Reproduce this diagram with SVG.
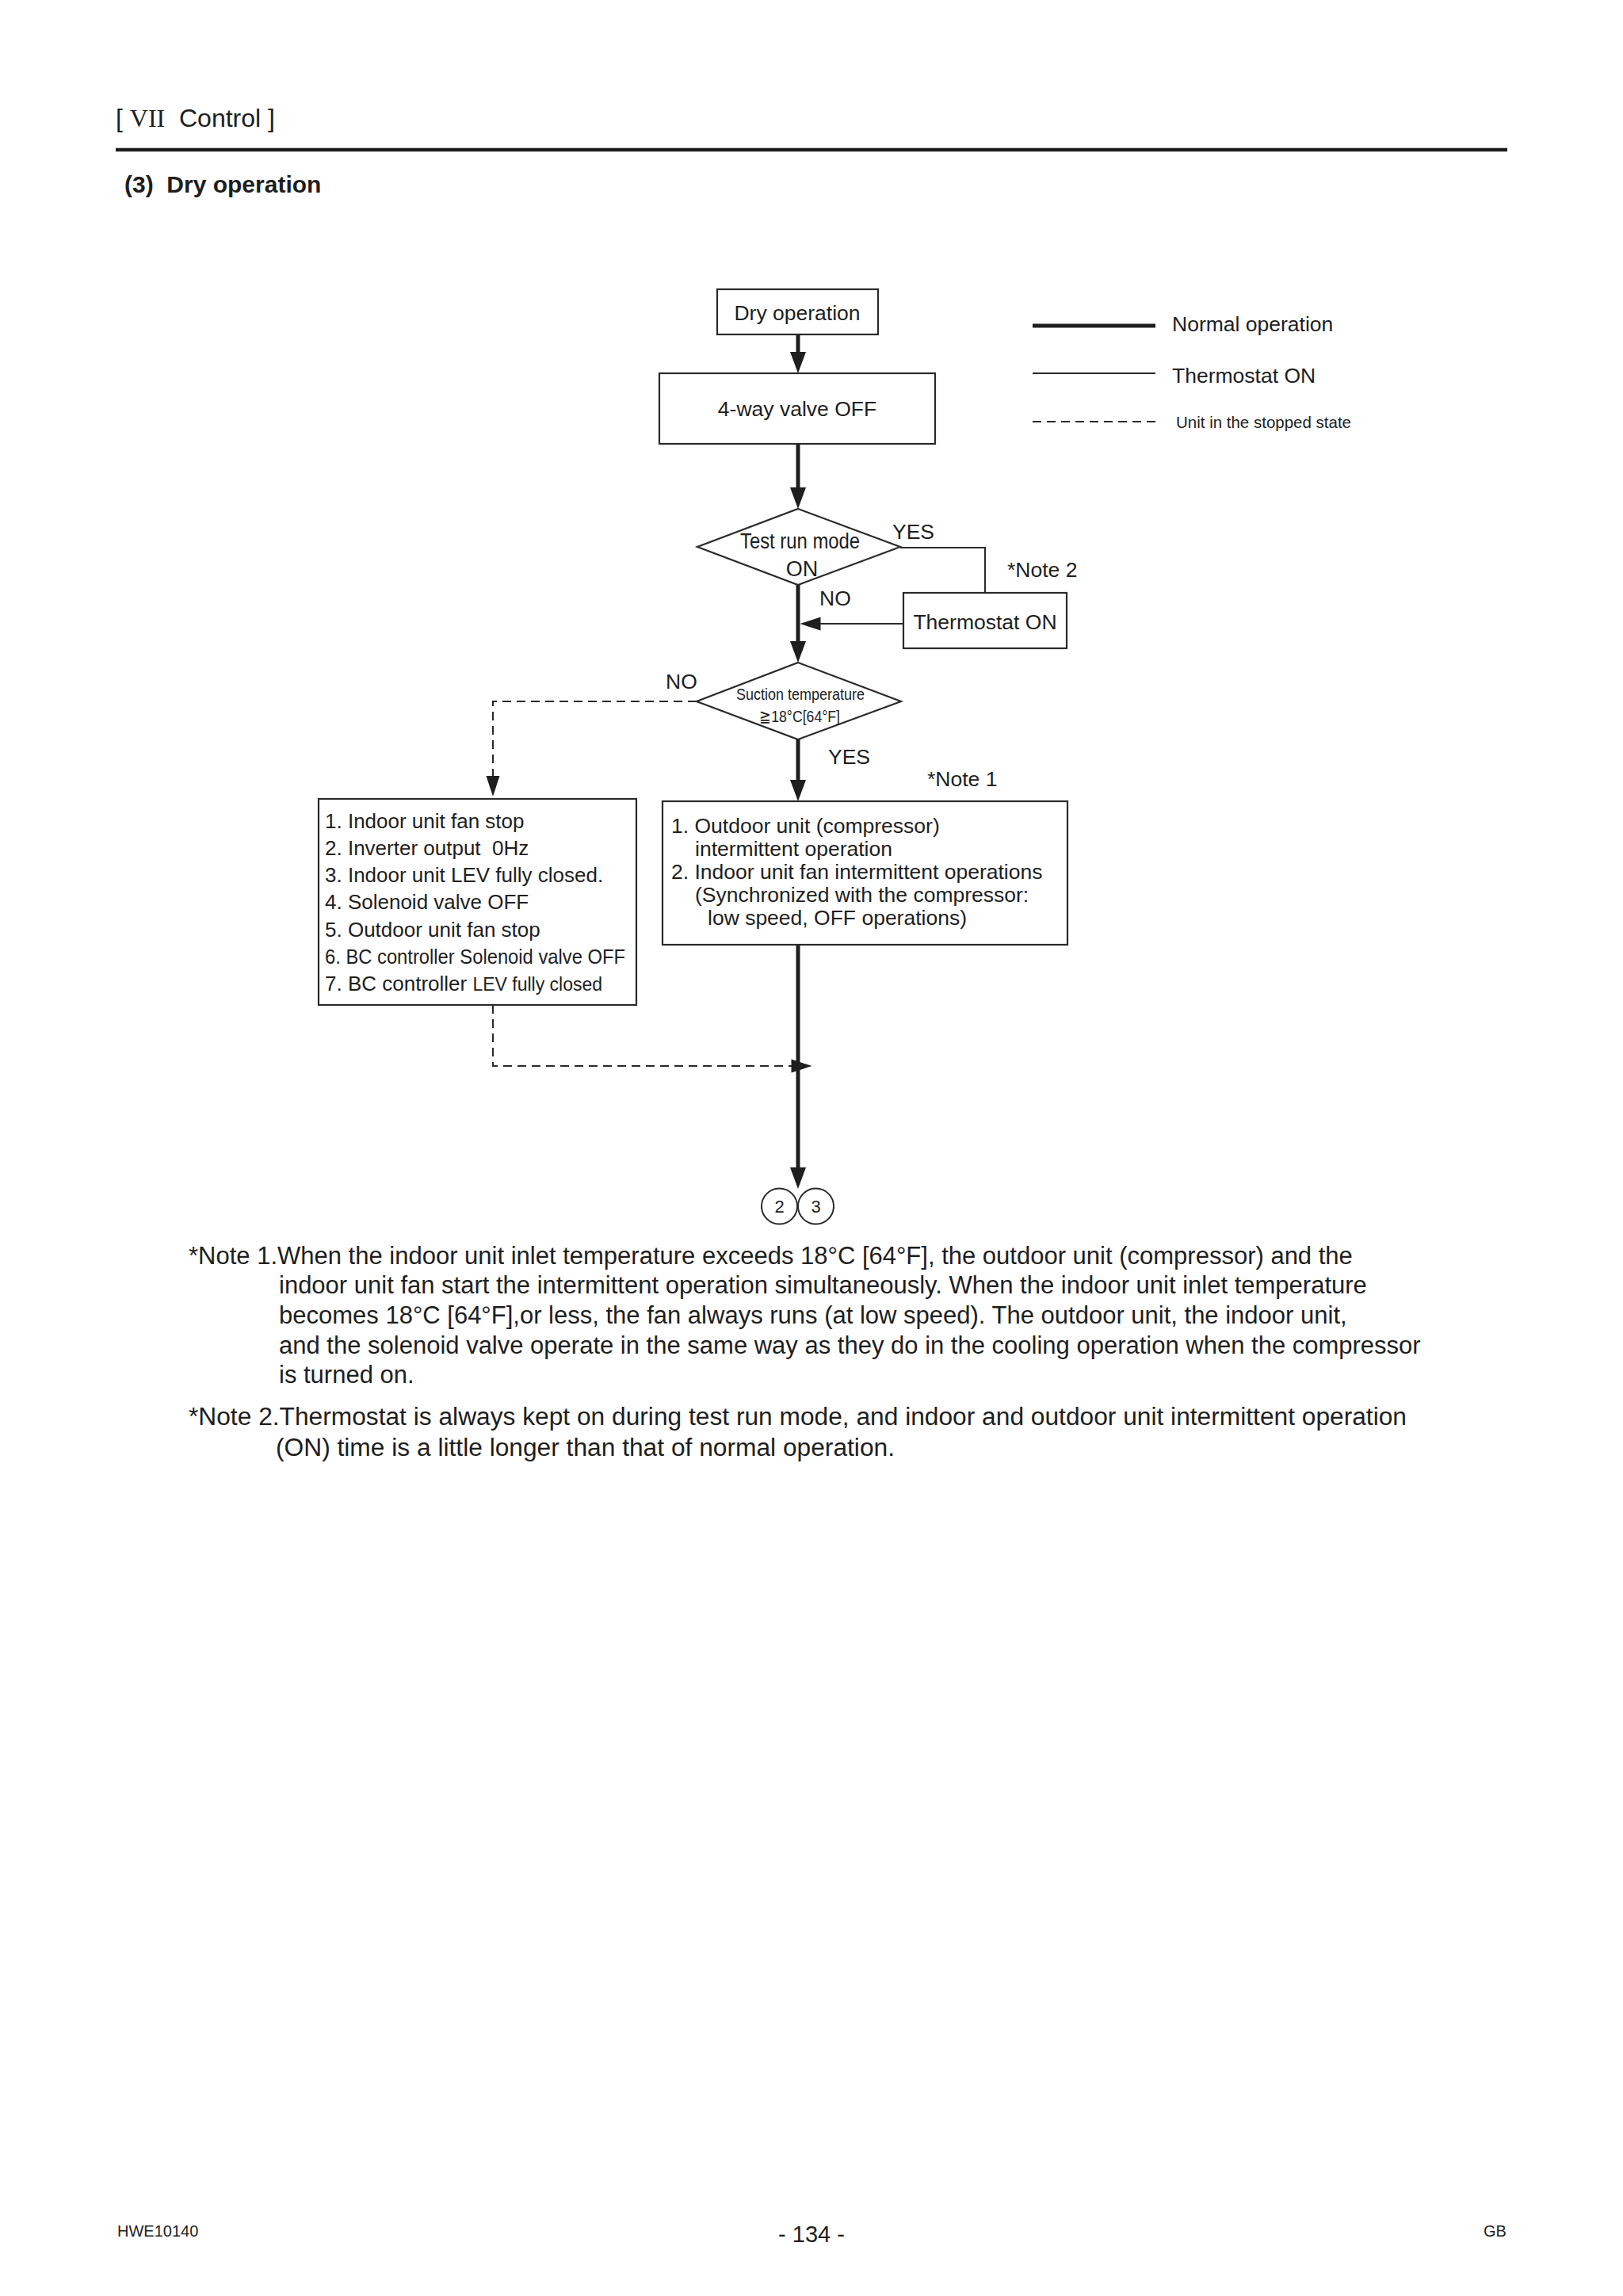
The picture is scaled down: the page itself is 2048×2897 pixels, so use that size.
<svg xmlns="http://www.w3.org/2000/svg" width="2048" height="2897" viewBox="0 0 2048 2897">
<style>
text{font-family:"Liberation Sans",Arial,sans-serif;fill:#1e1e1e}
.n{font-size:26.5px}
.b{font-size:26px}
.nt{font-size:31px}
.box{fill:#fff;stroke:#2a2a2a;stroke-width:2.2}
.thick{fill:none;stroke:#1e1e1e;stroke-width:5}
.thin{fill:none;stroke:#2a2a2a;stroke-width:2}
.dash{fill:none;stroke:#2a2a2a;stroke-width:2.2;stroke-dasharray:11 7}
.c{text-anchor:middle}
</style>
<defs>
<marker id="ahB" markerUnits="userSpaceOnUse" markerWidth="27" markerHeight="20" refX="17" refY="10" orient="auto" overflow="visible"><path d="M0,0 L27,10 L0,20 z" fill="#1e1e1e"/></marker>
<marker id="ahS" markerUnits="userSpaceOnUse" markerWidth="26" markerHeight="17" refX="16" refY="8.5" orient="auto" overflow="visible"><path d="M0,0 L26,8.5 L0,17 z" fill="#1e1e1e"/></marker>
</defs>
<rect width="2048" height="2897" fill="#fff"/>

<g id="header">
<text x="146" y="160" font-size="32" xml:space="preserve">[ <tspan font-family="Liberation Serif,serif">VII</tspan>  Control ]</text>
<line x1="146" y1="189" x2="1902" y2="189" stroke="#1e1e1e" stroke-width="4.5"/>
<text x="157" y="243" font-size="30" font-weight="bold" xml:space="preserve">(3)  Dry operation</text>
</g>

<g id="legend">
<line x1="1303" y1="411" x2="1458" y2="411" stroke="#1e1e1e" stroke-width="5"/>
<text x="1479" y="418" class="n">Normal operation</text>
<line x1="1303" y1="471" x2="1458" y2="471" class="thin"/>
<text x="1479" y="483" class="n">Thermostat ON</text>
<line x1="1303" y1="532" x2="1458" y2="532" class="dash"/>
<text x="1484" y="540" font-size="21" textLength="221" lengthAdjust="spacingAndGlyphs">Unit in the stopped state</text>
</g>

<g id="connectors">
<path d="M1007 422 V461" class="thick" marker-end="url(#ahB)"/>
<path d="M1007 560 V632" class="thick" marker-end="url(#ahB)"/>
<path d="M1007 738 V826" class="thick" marker-end="url(#ahB)"/>
<path d="M1007 933 V1001" class="thick" marker-end="url(#ahB)"/>
<path d="M1007 1192 V1490" class="thick" marker-end="url(#ahB)"/>
<path d="M1136 691 H1243 V748" class="thin"/>
<path d="M1140 787 H1019.5" class="thin" marker-end="url(#ahS)"/>
<path d="M879 885 H622 V995" class="dash" marker-end="url(#ahS)"/>
<path d="M622 1268 V1345 H1014.5" class="dash" marker-end="url(#ahS)"/>
<text x="1126" y="680" class="n">YES</text>
<text x="1034" y="764" class="n">NO</text>
<text x="840" y="869" class="n">NO</text>
<text x="1045" y="964" class="n">YES</text>
<text x="1271" y="728" class="n">*Note 2</text>
<text x="1170" y="992" class="n">*Note 1</text>
</g>

<g id="node-dry">
<rect x="905" y="365" width="203" height="57" class="box"/>
<text x="1006" y="404" class="n c">Dry operation</text>
</g>

<g id="node-4way">
<rect x="832" y="471" width="348" height="89" class="box"/>
<text x="1006" y="525" class="n c">4-way valve OFF</text>
</g>

<g id="node-testrun">
<polygon points="1007,642 1136,690 1007,738 880,690" class="box"/>
<text x="1009.5" y="692" font-size="27" class="c" textLength="151" lengthAdjust="spacingAndGlyphs">Test run mode</text>
<text x="1012" y="727" font-size="27" class="c">ON</text>
</g>

<g id="node-thermo">
<rect x="1140" y="748" width="206" height="70" class="box"/>
<text x="1243" y="794" class="n c">Thermostat ON</text>
</g>

<g id="node-suction">
<polygon points="1007,836 1137,885 1007,933 879,885" class="box"/>
<text x="1010" y="883" font-size="21" class="c" textLength="162" lengthAdjust="spacingAndGlyphs">Suction temperature</text>
<text x="1009" y="911" font-size="21" class="c" textLength="102" lengthAdjust="spacingAndGlyphs">≧18°C[64°F]</text>
</g>

<g id="node-stop">
<rect x="402" y="1008" width="401" height="260" class="box"/>
<text x="410" y="1045" class="b">1. Indoor unit fan stop</text>
<text x="410" y="1079" class="b" xml:space="preserve">2. Inverter output  0Hz</text>
<text x="410" y="1113" class="b">3. Indoor unit LEV fully closed.</text>
<text x="410" y="1147" class="b">4. Solenoid valve OFF</text>
<text x="410" y="1182" class="b">5. Outdoor unit fan stop</text>
<text x="410" y="1216" class="b" textLength="379" lengthAdjust="spacingAndGlyphs">6. BC controller Solenoid valve OFF</text>
<text x="410" y="1250" class="b">7. BC controller <tspan font-size="23">LEV fully closed</tspan></text>
</g>

<g id="node-intermittent">
<rect x="836" y="1011" width="511" height="181" class="box"/>
<text x="847" y="1051" class="n">1. Outdoor unit (compressor)</text>
<text x="877" y="1080" class="n">intermittent operation</text>
<text x="847" y="1109" class="n">2. Indoor unit fan intermittent operations</text>
<text x="877" y="1138" class="n">(Synchronized with the compressor:</text>
<text x="893" y="1167" class="n">low speed, OFF operations)</text>
</g>

<g id="node-links">
<circle cx="983.5" cy="1522" r="22.5" class="thin" fill="#fff"/>
<text x="983.5" y="1530" font-size="22" class="c">2</text>
<circle cx="1029.5" cy="1522" r="22.5" class="thin" fill="#fff"/>
<text x="1029.5" y="1530" font-size="22" class="c">3</text>
</g>

<g id="notes">
<text x="238" y="1595" class="nt">*Note 1.When the indoor unit inlet temperature exceeds 18°C [64°F], the outdoor unit (compressor) and the</text>
<text x="352" y="1632" class="nt">indoor unit fan start the intermittent operation simultaneously. When the indoor unit inlet temperature</text>
<text x="352" y="1670" class="nt">becomes 18°C [64°F],or less, the fan always runs (at low speed). The outdoor unit, the indoor unit,</text>
<text x="352" y="1708" class="nt">and the solenoid valve operate in the same way as they do in the cooling operation when the compressor</text>
<text x="352" y="1745" class="nt">is turned on.</text>
<text x="238" y="1798" class="nt" textLength="1537" lengthAdjust="spacingAndGlyphs">*Note 2.Thermostat is always kept on during test run mode, and indoor and outdoor unit intermittent operation</text>
<text x="348" y="1837" class="nt" textLength="781" lengthAdjust="spacingAndGlyphs">(ON) time is a little longer than that of normal operation.</text>
</g>

<g id="footer">
<text x="148" y="2822" font-size="20">HWE10140</text>
<text x="1024" y="2829" font-size="29" class="c">- 134 -</text>
<text x="1872" y="2822" font-size="20">GB</text>
</g>
</svg>
